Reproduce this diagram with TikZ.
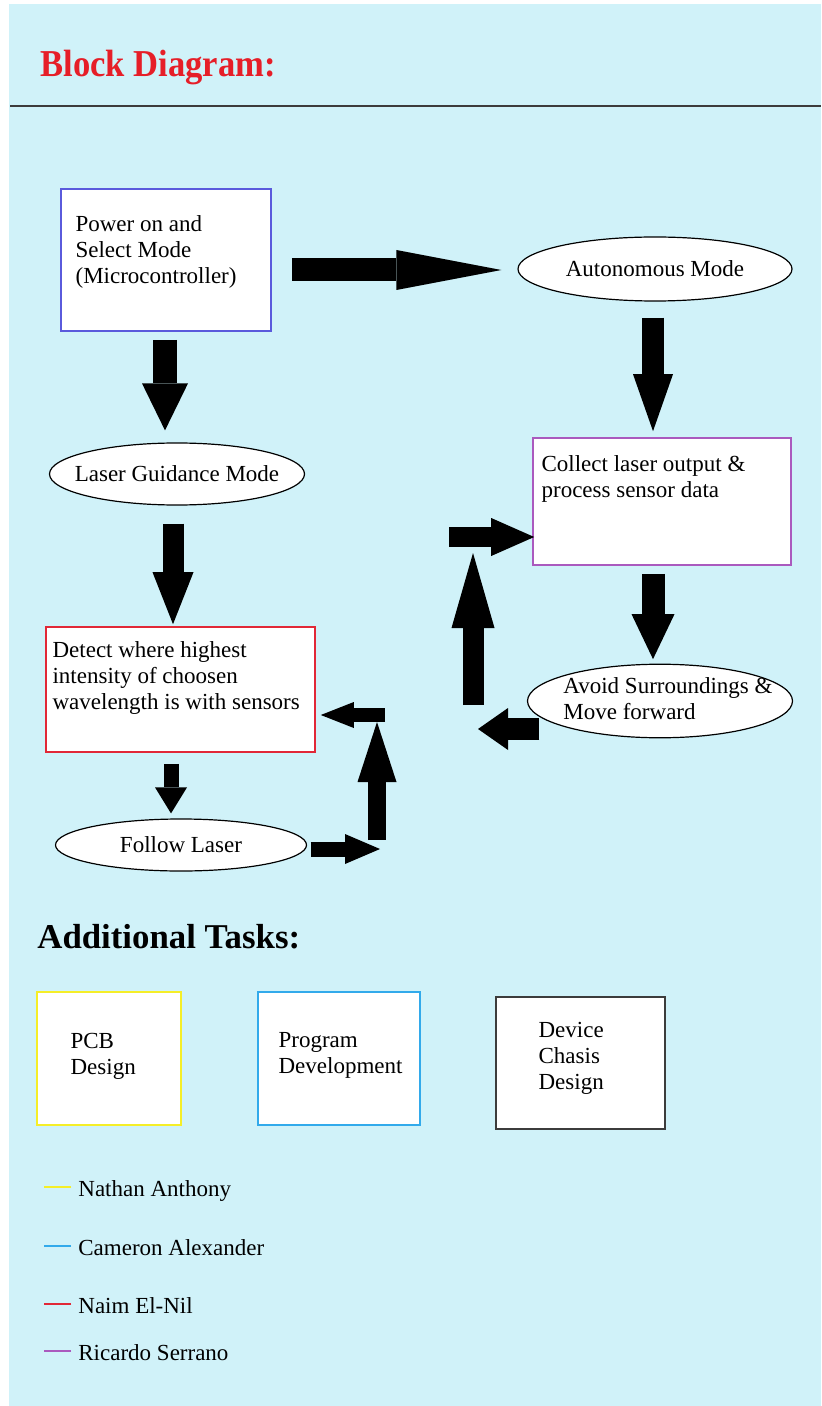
\documentclass[tikz,border=0pt]{standalone}
\usepackage{fontspec}
\setmainfont{Liberation Serif}
\usetikzlibrary{arrows.meta,shapes.geometric,positioning,calc}

\definecolor{bgcyan}{RGB}{208,242,249}
\definecolor{titlered}{RGB}{230,30,40}
\definecolor{pwrblue}{RGB}{90,90,220}
\definecolor{detred}{RGB}{225,40,55}
\definecolor{colpurple}{RGB}{170,90,190}
\definecolor{pcbyellow}{RGB}{245,238,40}
\definecolor{progblue}{RGB}{50,170,235}
\definecolor{devgray}{RGB}{60,60,60}

\begin{document}
\begin{tikzpicture}[x=0.5pt,y=-0.5pt,
    fat/.style n args={3}{line width=#1,-{Triangle[length=#2,width=#3,line width=0pt]}}]
       \tikzstyle{every node}=[font=\fontsize{11.5}{13}\selectfont]
       \tikzstyle{box}=[rectangle,draw,fill=white,line width=0.8pt,inner sep=0pt]
       \tikzstyle{oval}=[ellipse,draw,fill=white,line width=0.6pt,inner sep=0pt]
       \tikzstyle{boxtext}=[align=left,inner sep=0pt]
       \tikzstyle{heading}=[anchor=base west,inner sep=0pt]

       \useasboundingbox (0,0) rectangle (821,1406);
       \fill[bgcyan] (9,4) rectangle (821,1406);

       \node[heading,text=titlered,font=\fontsize{19}{22}\selectfont\bfseries] (title) at (40,77) {\scalebox{0.91}[1]{Block Diagram:}};
       \draw[line width=1pt,devgray] (10,106) -- (821,106);

       % block diagram
       \node[box,draw=pwrblue,minimum width=105pt,minimum height=71pt] (pwr) at (166,260) {};
       \node[boxtext,below right=13.5pt and 7.5pt of pwr.north west] (pwrtext) {Power on and\\Select Mode\\(Microcontroller)};
       \node[oval,minimum width=137pt,minimum height=32pt] (auto) at (655,269) {\makebox[0pt]{Autonomous Mode}};
       \node[oval,minimum width=127.5pt,minimum height=31pt] (laser) at (177,474) {\makebox[0pt]{Laser Guidance Mode}};
       \node[box,draw=detred,minimum width=134.5pt,minimum height=62.5pt] (detect) at (180.5,689.5) {};
       \node[boxtext,below right=7.5pt and 3.5pt of detect.north west] (detecttext) {Detect where highest\\intensity of choosen\\wavelength is with sensors};
       \node[oval,minimum width=125.5pt,minimum height=26pt] (follow) at (181,845) {\makebox[0pt]{Follow Laser}};
       \node[box,draw=colpurple,minimum width=129pt,minimum height=63.5pt] (collect) at (662,501.5) {};
       \node[boxtext,below right=9pt and 4.5pt of collect.north west] (collecttext) {Collect laser output \&\\process sensor data};
       \node[oval,minimum width=132.5pt,minimum height=36.5pt] (avoid) at (660,701) {\makebox[0pt]{\hspace{8pt}\begin{tabular}{@{}l@{}}Avoid Surroundings \&\\Move forward\end{tabular}}};

       \coordinate (fl1) at (380,849);
       \coordinate (fl2) at (377,840);
       \coordinate (fl3) at (377,722);
       \coordinate (fl4) at (385,715);
       \coordinate (av1) at (478,729);
       \coordinate (av2) at (473,705);
       \coordinate (av3) at (473,553);
       \coordinate (av4) at (449,537);

       \draw[fat={11.5pt}{52.5pt}{20pt}] ($(pwr.east)+(20,10)$) -- ($(auto.west)+(-16,1)$);
       \draw[fat={12pt}{23.5pt}{23pt}] ($(pwr.south)+(-1,8)$) -- ($(laser.north)+(-12,-12)$);
       \draw[fat={10.5pt}{26pt}{20.5pt}] ($(laser.south)+(-4,18)$) -- ($(detect.north)+(-7.5,-2)$);
       \draw[fat={7.5pt}{13pt}{16pt}] ($(detect.south)+(-9.5,11)$) -- ($(follow.north)+(-10,-5)$);
       \draw[fat={7.5pt}{17.5pt}{15pt}] ($(follow.east)+(3.5,4)$) -- (fl1);
       \draw[fat={9pt}{30pt}{19.5pt}] (fl2) -- (fl3);
       \draw[fat={7pt}{16.5pt}{13pt}] (fl4) -- ($(detect.east)+(5,25.5)$);
       \draw[fat={11pt}{28.5pt}{20pt}] ($(auto.south)+(-2,16)$) -- ($(collect.north)+(-9,-6)$);
       \draw[fat={11.5pt}{22.5pt}{21.5pt}] ($(collect.south)+(-9,8)$) -- ($(avoid.north)+(-7,-4.5)$);
       \draw[fat={11pt}{15pt}{21pt}] ($(avoid.west)+(12.5,28)$) -- (av1);
       \draw[fat={10.5pt}{37.5pt}{21.5pt}] (av2) -- (av3);
       \draw[fat={10pt}{21.5pt}{19pt}] (av4) -- ($(collect.west)+(2,35.5)$);

       % additional tasks
       \node[heading,font=\fontsize{17.4}{20}\selectfont\bfseries] (tasks) at (37,948) {Additional Tasks:};
       \node[box,draw=pcbyellow,minimum width=72pt,minimum height=66.5pt] (pcb) at (109,1058.5) {};
       \node[boxtext,below right=21pt and 17pt of pcb.north west] (pcbtext) {PCB\\Design};
       \node[box,draw=progblue,minimum width=81pt,minimum height=66.5pt] (prog) at (339,1058.5) {};
       \node[boxtext,below right=20.5pt and 10.5pt of prog.north west] (progtext) {Program\\Development};
       \node[box,draw=devgray,minimum width=84.5pt,minimum height=66pt] (device) at (580.5,1063) {};
       \node[boxtext,below right=13pt and 21.5pt of device.north west] (devicetext) {Device\\Chasis\\Design};

       % team members
       \foreach \who/\name/\yy/\col in {nathan/Nathan Anthony/1196/pcbyellow,
                                        cameron/Cameron Alexander/1255/progblue,
                                        naim/Naim El-Nil/1313/detred,
                                        ricardo/Ricardo Serrano/1360/colpurple}{
         \node[heading] (\who) at (78,\yy) {\name};
         \draw[\col,line width=0.8pt] ($(\who.base west)+(-7,-9)$) -- ++(-27,0);
       }
     \end{tikzpicture}
\end{document}
